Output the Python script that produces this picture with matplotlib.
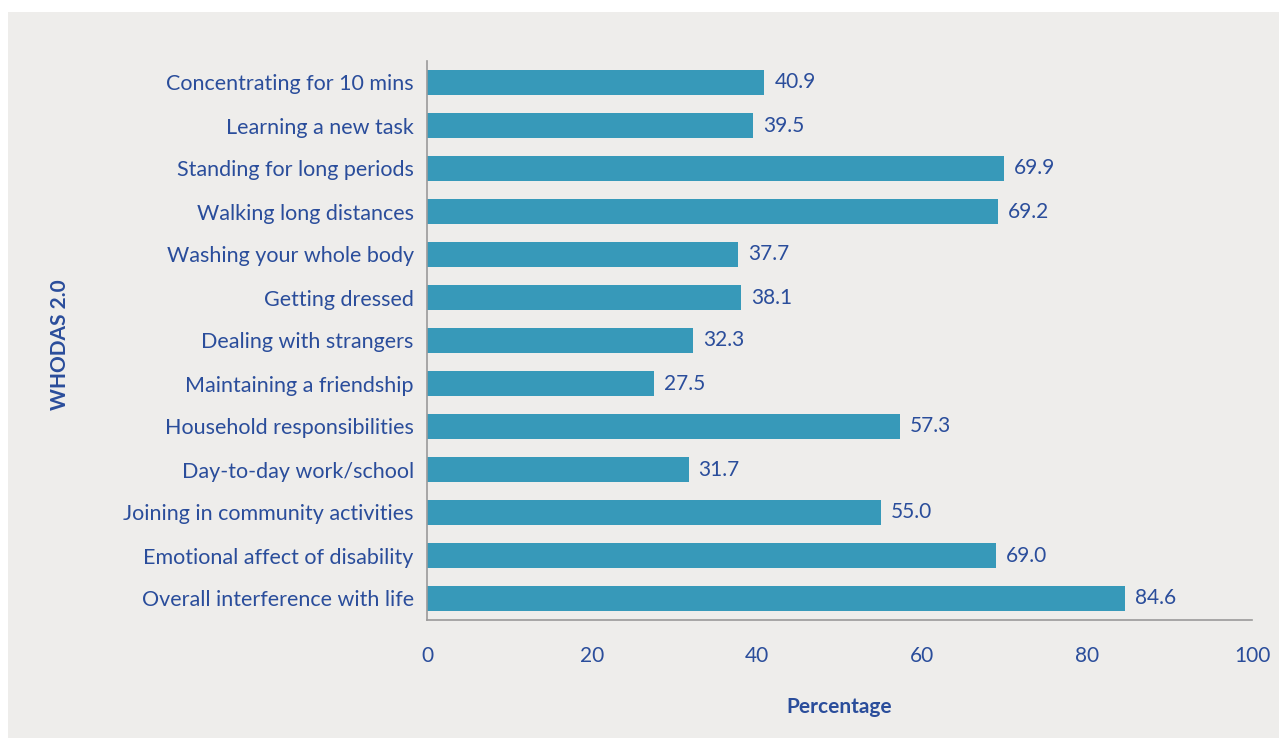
import matplotlib.pyplot as plt
from matplotlib.patches import Rectangle

categories = [
    'Concentrating for 10 mins',
    'Learning a new task',
    'Standing for long periods',
    'Walking long distances',
    'Washing your whole body',
    'Getting dressed',
    'Dealing with strangers',
    'Maintaining a friendship',
    'Household responsibilities',
    'Day-to-day work/school',
    'Joining in community activities',
    'Emotional affect of disability',
    'Overall interference with life',
]
values = [40.9, 39.5, 69.9, 69.2, 37.7, 38.1, 32.3, 27.5, 57.3, 31.7, 55.0, 69.0, 84.6]
xticks = [0, 20, 40, 60, 80, 100]

bg = '#eeedeb'
bar_color = '#3799b9'
text_color = '#2a4d9b'

plt.rcParams['font.family'] = ['Lato', 'DejaVu Sans']

fig = plt.figure(figsize=(12.79, 7.38), dpi=100)
fig.patch.set_facecolor('white')
fig.patches.append(Rectangle((8 / 1279, 0), 1 - 8 / 1279, 1 - 12 / 738,
                             transform=fig.transFigure, facecolor=bg,
                             edgecolor='none', zorder=-10))

ax = fig.add_axes([427 / 1279, 118 / 738, 825 / 1279, 559 / 738])
ax.set_facecolor(bg)

y = list(range(len(categories)))
ax.barh(y, values, height=0.56, color=bar_color)
for yi, v in zip(y, values):
    ax.text(v + 1.2, yi, f'{v:.1f}', va='center', ha='left',
            fontsize=15, color=text_color)

ax.set_ylim(12.5, -0.5)
ax.set_xlim(0, 100)
ax.set_yticks(y)
ax.set_yticklabels(categories)
ax.set_xticks(xticks)
ax.tick_params(axis='both', length=0, labelsize=15, colors=text_color)
ax.tick_params(axis='y', pad=9.5, labelsize=15.5)
ax.tick_params(axis='x', pad=19)

for s in ['top', 'right']:
    ax.spines[s].set_visible(False)
for s in ['left', 'bottom']:
    ax.spines[s].set_color('#9a9a9a')
    ax.spines[s].set_linewidth(1.2)

ax.set_xlabel('Percentage', fontsize=15, fontweight='bold', color=text_color, labelpad=22)
fig.text(60 / 1279, 1 - 345 / 738, 'WHODAS 2.0', rotation=90, ha='center', va='center',
         fontsize=15, fontweight='bold', color=text_color)

fig.savefig('out.png', dpi=100, facecolor=fig.get_facecolor())
